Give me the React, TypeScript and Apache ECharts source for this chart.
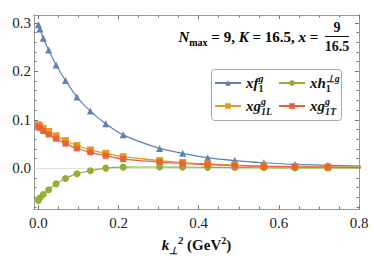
import React, { useEffect, useRef } from "react";
import * as echarts from "echarts";

const kSq = [0.0001, 0.0036, 0.0121, 0.0256, 0.0441, 0.0676, 0.0961, 0.1296, 0.1681, 0.2116, 0.3025, 0.36, 0.4225, 0.49, 0.5625, 0.64, 0.7225, 0.81];
const xf1 = [0.296, 0.287, 0.268, 0.244, 0.213, 0.181, 0.147, 0.118, 0.092, 0.069, 0.041, 0.031, 0.022, 0.016, 0.0115, 0.008, 0.0062, 0.0045];
const xh1 = [-0.066, -0.061, -0.054, -0.044, -0.032, -0.021, -0.011, -0.005, 0.0005, 0.0025, 0.0028, 0.0025, 0.002, 0.0016, 0.0012, 0.001, 0.0008, 0.0006];
const xg1L = [0.09, 0.087, 0.082, 0.076, 0.067, 0.057, 0.047, 0.038, 0.031, 0.024, 0.016, 0.012, 0.009, 0.0065, 0.0048, 0.0036, 0.0028, 0.002];
const xg1T = [0.086, 0.083, 0.077, 0.07, 0.061, 0.051, 0.041, 0.033, 0.026, 0.019, 0.013, 0.01, 0.0075, 0.0055, 0.004, 0.003, 0.0024, 0.0018];

const xMajor = [0, 0.2, 0.4, 0.6, 0.8];
const xMinor = [0.05, 0.1, 0.15, 0.25, 0.3, 0.35, 0.45, 0.5, 0.55, 0.65, 0.7, 0.75];
const yMajor = [0, 0.1, 0.2, 0.3];
const yMinor = [-0.08, -0.06, -0.04, -0.02, 0.02, 0.04, 0.06, 0.08, 0.12, 0.14, 0.16, 0.18, 0.22, 0.24, 0.26, 0.28];

const names = ["xf1", "xh1", "xg1L", "xg1T"];
const labelsRich: Record<string, string> = {
  xf1: "{m|xf}{sb0|1}{sp|g}",
  xh1: "{m|xh}{sb0|1}{sp|⊥g}",
  xg1L: "{m|xg}{sp0|g}{sb|1L}",
  xg1T: "{m|xg}{sp0|g}{sb|1T}",
};

const SERIF = "Liberation Serif";
const FRAME = "#9a9a9a";

const rich = {
  m: { fontFamily: SERIF, fontSize: 15, fontStyle: "italic", fontWeight: "bold", color: "#111", lineHeight: 20, verticalAlign: "middle" },
  r: { fontFamily: SERIF, fontSize: 15, fontWeight: "bold", color: "#111", lineHeight: 20, verticalAlign: "middle" },
  sp: { fontFamily: SERIF, fontSize: 10, fontStyle: "italic", fontWeight: "bold", color: "#111", lineHeight: 9, verticalAlign: "top" },
  sp0: { fontFamily: SERIF, fontSize: 10, fontStyle: "italic", fontWeight: "bold", color: "#111", lineHeight: 9, verticalAlign: "top", width: 0 },
  spr: { fontFamily: SERIF, fontSize: 10, fontWeight: "bold", color: "#111", lineHeight: 9, verticalAlign: "top" },
  sb: { fontFamily: SERIF, fontSize: 10, fontStyle: "italic", fontWeight: "bold", color: "#111", lineHeight: 9, verticalAlign: "bottom" },
  sb0: { fontFamily: SERIF, fontSize: 10, fontWeight: "bold", color: "#111", lineHeight: 9, verticalAlign: "bottom", width: 0 },
  sbr: { fontFamily: SERIF, fontSize: 10, fontWeight: "bold", color: "#111", lineHeight: 9, verticalAlign: "bottom" },
};

export default function App() {
  const ref = useRef<HTMLDivElement>(null);
  useEffect(() => {
    if (!ref.current) return;
    const chart = echarts.init(ref.current, undefined, { renderer: "svg" });
    const mk = (ys: number[]) => kSq.map((x, i) => [x, ys[i]]);
    const xMin = -0.011, xMax = 0.8, yMin = -0.084, yMax = 0.316;
    const baseX = (pos: string, showLabel: boolean, vals: number[], len: number) => ({
      type: "value",
      position: pos,
      min: xMin,
      max: xMax,
      axisLine: { show: true, onZero: false, lineStyle: { color: FRAME, width: 1 } },
      axisTick: { show: true, inside: true, length: len, customValues: vals, lineStyle: { color: "#777" } },
      axisLabel: showLabel
        ? { show: true, customValues: vals, formatter: (v: number) => v.toFixed(1), fontFamily: SERIF, fontSize: 15, color: "#222", margin: 6 }
        : { show: false },
      splitLine: { show: false },
    });
    const baseY = (pos: string, showLabel: boolean, vals: number[], len: number) => ({
      type: "value",
      position: pos,
      min: yMin,
      max: yMax,
      axisLine: { show: true, onZero: false, lineStyle: { color: FRAME, width: 1 } },
      axisTick: { show: true, inside: true, length: len, customValues: vals, lineStyle: { color: "#777" } },
      axisLabel: showLabel
        ? { show: true, customValues: vals, formatter: (v: number) => v.toFixed(1), fontFamily: SERIF, fontSize: 15, color: "#222", margin: 3 }
        : { show: false },
      splitLine: { show: false },
    });
    const xA: any[] = [baseX("bottom", true, xMajor, 4), baseX("bottom", false, xMinor, 2.5), baseX("top", false, xMajor, 4), baseX("top", false, xMinor, 2.5)];
    (xA[0] as any).name = "{m|k}{sb|⊥}{sp|2}{r| (GeV}{spr|2}{r|)}";
    (xA[0] as any).nameLocation = "middle";
    (xA[0] as any).nameGap = 22;
    (xA[0] as any).nameTextStyle = { rich, verticalAlign: "top" };
    const yA: any[] = [baseY("left", true, yMajor, 4), baseY("left", false, yMinor, 2.5), baseY("right", false, yMajor, 4), baseY("right", false, yMinor, 2.5)];

    const colors: Record<string, string> = { xf1: "#5E81B5", xh1: "#8FB032", xg1L: "#E19C24", xg1T: "#EB6235" };
    const symbols: Record<string, string> = { xf1: "triangle", xh1: "circle", xg1L: "rect", xg1T: "rect" };
    const sizes: Record<string, number> = { xf1: 7, xh1: 7, xg1L: 7, xg1T: 6 };
    const dataMap: Record<string, number[]> = { xf1, xh1, xg1L, xg1T };

    const series: any[] = names.map((n, idx) => ({
      name: n,
      type: "line",
      xAxisIndex: 0,
      yAxisIndex: 0,
      data: mk(dataMap[n]),
      smooth: 0.3,
      clip: true,
      symbol: symbols[n],
      symbolSize: sizes[n],
      showSymbol: true,
      itemStyle: { color: colors[n] },
      lineStyle: { color: colors[n], width: 1.2 },
      z: 3 + idx,
      markLine: idx === 0
        ? { silent: true, symbol: "none", label: { show: false }, lineStyle: { color: "#dedede", width: 1, type: "solid" }, data: [{ yAxis: 0 }], z: 1 }
        : undefined,
    }));

    const legendText = {
      formatter: (name: string) => labelsRich[name],
      textStyle: { rich },
    };

    chart.setOption({
      animation: false,
      grid: { left: 34, right: 15, top: 15, bottom: 45, containLabel: false },
      xAxis: xA,
      yAxis: yA,
      legend: [
        { data: names.filter((n) => n === "xf1" || n === "xg1L"), orient: "vertical", left: 214, top: 73, itemWidth: 26, itemHeight: 7, itemGap: 3, padding: 0, ...legendText, z: 5 },
        { data: names.filter((n) => n === "xh1" || n === "xg1T"), orient: "vertical", left: 278, top: 73, itemWidth: 26, itemHeight: 7, itemGap: 3, padding: 0, ...legendText, z: 5 },
      ],
      graphic: [
        { type: "rect", shape: { x: 211.5, y: 69.5, width: 130, height: 51, r: 3 }, style: { fill: "#fff", stroke: "#a8a8a8", lineWidth: 1 }, z: 4 },
        {
          type: "text",
          x: 322,
          y: 37,
          z: 5,
          style: {
            text: "{m|N}{sbr|max}{r| = 9, }{m|K}{r| = 16.5, }{m|x}{r| = }",
            rich,
            align: "right",
            verticalAlign: "middle",
          },
        },
        { type: "text", x: 337, y: 27, z: 5, style: { text: "9", fontFamily: SERIF, fontSize: 14, fontWeight: "bold", fill: "#111", align: "center", verticalAlign: "middle" } },
        { type: "line", z: 5, shape: { x1: 325, y1: 36.5, x2: 349, y2: 36.5 }, style: { stroke: "#111", lineWidth: 1 } },
        { type: "text", x: 337, y: 46, z: 5, style: { text: "16.5", fontFamily: SERIF, fontSize: 14, fontWeight: "bold", fill: "#111", align: "center", verticalAlign: "middle" } },
      ],
      series,
    });
    return () => chart.dispose();
  }, []);
  return <div ref={ref} style={{ position: "fixed", left: 0, top: 0, width: 374, height: 260, background: "#fff" }} />;
}
